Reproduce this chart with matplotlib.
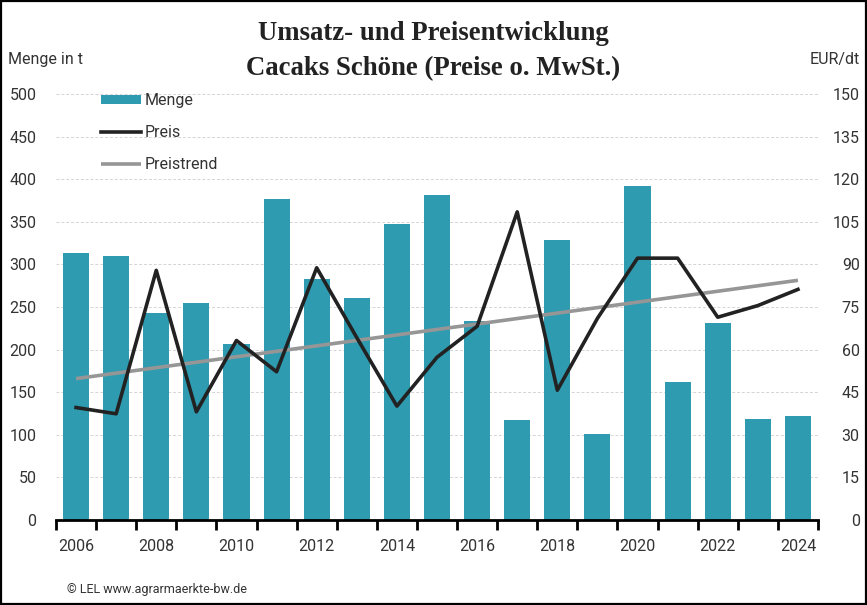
import numpy as np
import matplotlib.pyplot as plt
from matplotlib.patches import Rectangle

# data
years = list(range(2006, 2025))
menge = [313, 310, 243, 255, 206, 377, 283, 260, 347, 382,
         233, 117, 329, 101, 392, 162, 231, 118, 122]
preis = [39.6, 37.4, 87.9, 38.1, 63.2, 52.2, 88.8, 64.2, 40.1, 57.3,
         68.2, 108.5, 45.7, 71.0, 92.2, 92.2, 71.4, 75.5, 81.2]
year_labels = [str(y) for y in years[::2]]

bar_color = '#2f9bb0'
line_color = '#222222'
trend_color = '#969696'
text_color = '#333333'

plt.rcParams['font.family'] = ['Roboto', 'DejaVu Sans']

W, H = 867, 605
fig = plt.figure(figsize=(W / 100, H / 100), dpi=100)

ax = fig.add_axes([56 / W, 1 - 520 / H, (818 - 56) / W, (520 - 94) / H])
x = np.arange(len(years))

ax.bar(x, menge, width=0.65, color=bar_color, label='Menge', zorder=2)
ax.set_xlim(-0.5, len(years) - 0.5)
ax.set_ylim(0, 500)
ax.set_yticks(np.arange(0, 501, 50))
ax.grid(axis='y', color='#d4d4d4', linestyle=(0, (3, 2)), linewidth=0.7)
ax.set_axisbelow(True)

for s in ['top', 'left', 'right']:
    ax.spines[s].set_visible(False)
ax.spines['bottom'].set_linewidth(2)
ax.spines['bottom'].set_color('black')

ax.set_xticks(x[::2])
ax.set_xticklabels(year_labels)
ax.set_xticks(np.arange(-0.5, len(years)), minor=True)
ax.tick_params(axis='x', which='major', length=0, pad=14, labelsize=11.5, labelcolor=text_color)
ax.tick_params(axis='x', which='minor', length=7, width=2, color='black')
ax.tick_params(axis='y', length=0, pad=14, labelsize=11.5, labelcolor=text_color)

# price axis
ax2 = ax.twinx()
trend = np.polyval(np.polyfit(x, preis, 1), x)
ax2.plot(x, trend, color=trend_color, linewidth=2.6, label='Preistrend', solid_capstyle='butt', zorder=3)
ax2.plot(x, preis, color=line_color, linewidth=2.6, label='Preis', zorder=4)
ax2.set_ylim(0, 150)
ax2.set_yticks(np.arange(0, 151, 15))
for s in ax2.spines.values():
    s.set_visible(False)
ax2.tick_params(axis='y', length=0, pad=30, labelsize=11.5, labelcolor=text_color)
for lbl in ax2.get_yticklabels():
    lbl.set_horizontalalignment('right')

h1, l1 = ax.get_legend_handles_labels()
h2, l2 = ax2.get_legend_handles_labels()
handles = h1 + [h2[1], h2[0]]
labels = l1 + [l2[1], l2[0]]
fig.legend(handles, labels, loc='upper left', bbox_to_anchor=(101 / W, 1 - 93 / H),
           frameon=False, fontsize=11.5, borderpad=0, borderaxespad=0,
           handlelength=2.5, handleheight=0.55, handletextpad=0.25, labelspacing=1.07,
           labelcolor=text_color)

# titles and labels
fig.text(0.5, 1 - 40 / H, 'Umsatz- und Preisentwicklung', ha='center', va='baseline',
         fontsize=19.3, fontweight='bold', family='Liberation Serif', color='#222222')
fig.text(0.5, 1 - 75 / H, 'Cacaks Schöne (Preise o. MwSt.)', ha='center', va='baseline',
         fontsize=19.3, fontweight='bold', family='Liberation Serif', color='#222222')
fig.text(8 / W, 1 - 64 / H, 'Menge in t', ha='left', va='baseline', fontsize=11.5, color=text_color)
fig.text(860 / W, 1 - 64 / H, 'EUR/dt', ha='right', va='baseline', fontsize=11.5, color=text_color)
fig.text(67 / W, 1 - 593 / H, '© LEL www.agrarmaerkte-bw.de', ha='left', va='baseline',
         fontsize=9, color=text_color)

# frame around the figure
fig.patches.append(Rectangle((0.001, 0.0015), 0.998, 0.997, transform=fig.transFigure,
                             fill=False, edgecolor='black', linewidth=1.6))

fig.savefig('out.png', dpi=100)
